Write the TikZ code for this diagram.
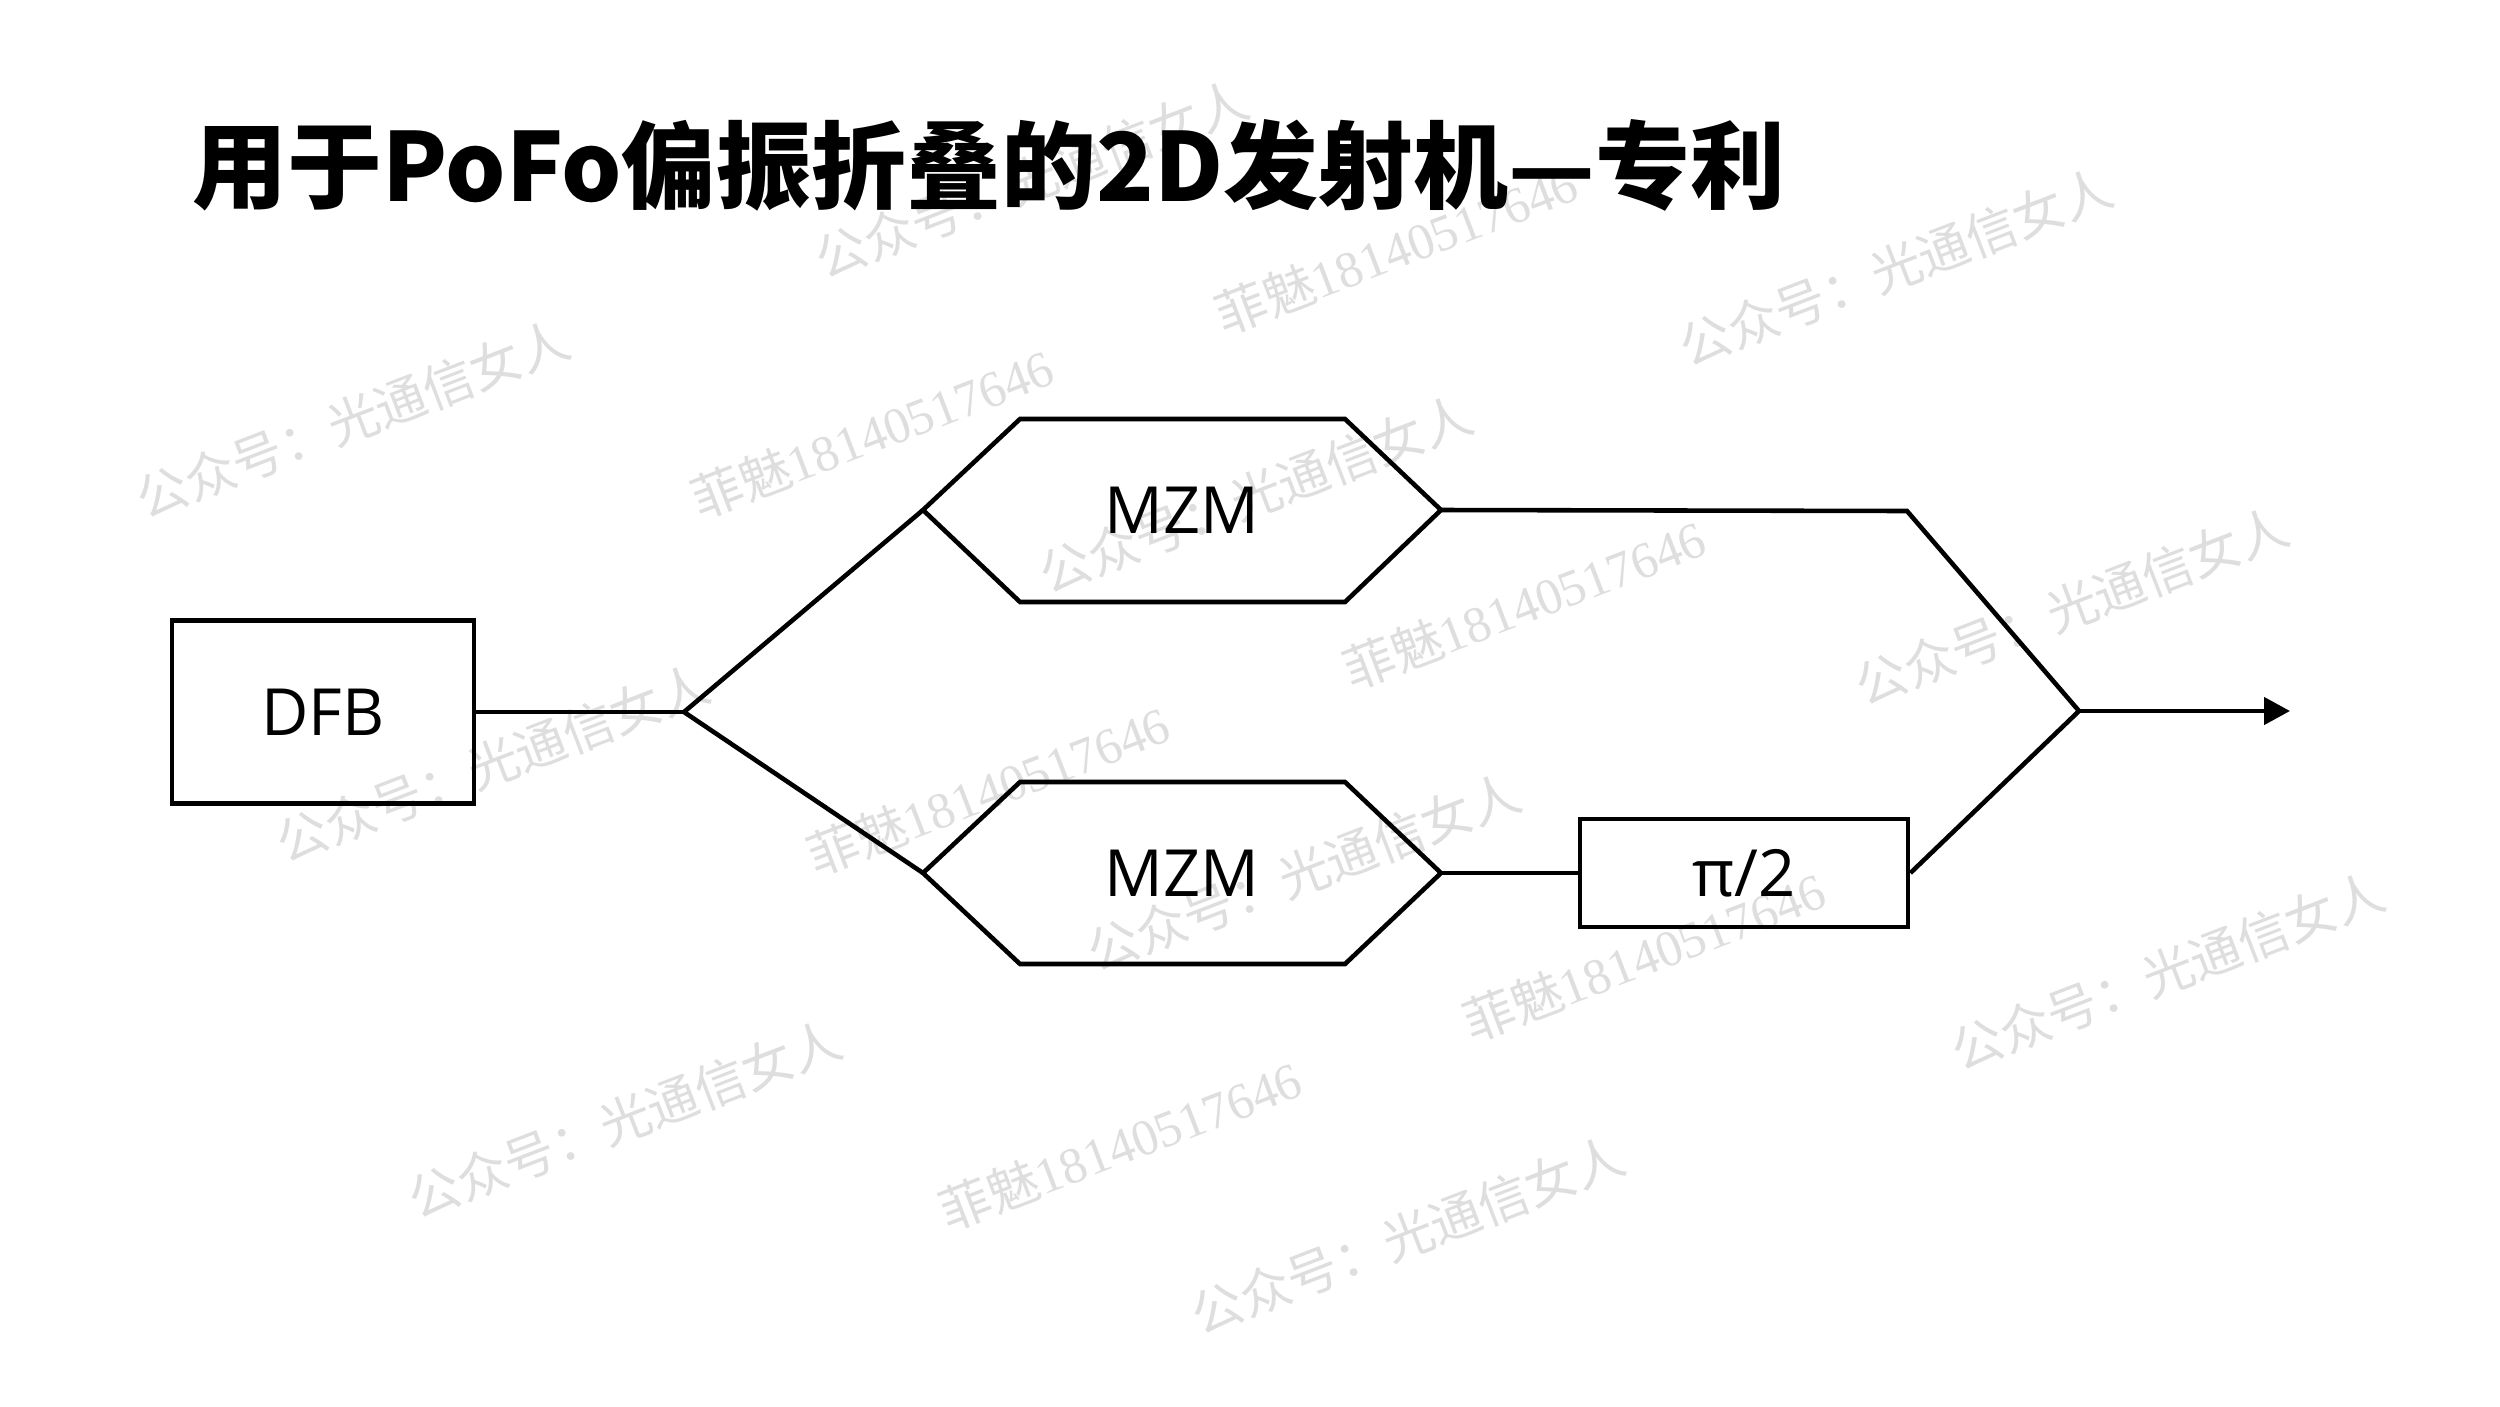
\documentclass[tikz,border=0pt]{standalone}
\usepackage{fontspec}
\setmainfont{Open Sans}
\newfontfamily\cjk{Noto Sans CJK SC}
\newfontfamily\wmdig{Liberation Serif}
\usetikzlibrary{arrows.meta}
\begin{document}
\begin{tikzpicture}[x=0.01cm,y=-0.01cm,
  wire/.style={line width=1.3pt,line join=miter},
  box/.style={draw,line width=1.3pt,inner sep=0pt,font=\fontsize{18.5}{20}\selectfont},
  lbl/.style={inner sep=0pt,font=\fontsize{18.5}{20}\selectfont},
  wm/.style={anchor=base west,rotate=21,inner sep=0pt,text=black!13,font=\cjk\fontsize{14.5}{16}\selectfont}]
\useasboundingbox (0,0) rectangle (2500,1406);
\fill[white] (0,0) rectangle (2500,1406);
% watermarks
\node[wm] (w1) at (145,520) {公众号：光通信女人};
\node[wm] (w2) at (700,520) {菲魅{\wmdig 18140517646}};
\node[wm] (w3) at (824,280) {公众号：光通信女人};
\node[wm] (w4) at (1224,336) {菲魅{\wmdig 18140517646}};
\node[wm] (w5) at (1688,368) {公众号：光通信女人};
\node[wm] (w6) at (1048,595) {公众号：光通信女人};
\node[wm] (w7) at (1352,691) {菲魅{\wmdig 18140517646}};
\node[wm] (w8) at (1864,707) {公众号：光通信女人};
\node[wm] (w9) at (285,864) {公众号：光通信女人};
\node[wm] (w10) at (816,877) {菲魅{\wmdig 18140517646}};
\node[wm] (w11) at (1096,973) {公众号：光通信女人};
\node[wm] (w12) at (1472,1043) {菲魅{\wmdig 18140517646}};
\node[wm] (w13) at (1960,1072) {公众号：光通信女人};
\node[wm] (w14) at (417,1220) {公众号：光通信女人};
\node[wm] (w15) at (948,1232) {菲魅{\wmdig 18140517646}};
\node[wm] (w16) at (1200,1336) {公众号：光通信女人};
% title
\node[anchor=base west,inner sep=0pt,font=\cjk\bfseries\fontsize{27}{30}\selectfont] (title) at (192,201) {用于PoFo偏振折叠的2D发射机—专利};
% DFB
\node[box,minimum width=3.02cm,minimum height=1.83cm] (dfb) at (323,712) {DFB};
\coordinate (split) at (684,712);
% upper MZM
\coordinate (uin) at (923,510);
\coordinate (uout) at (1441,510);
\draw[wire] (uin) -- (1020,419) -- (1345,419) -- (uout) -- (1345,602) -- (1020,602) -- cycle;
\node[lbl] (mzm1) at (1182,510) {MZM};
% lower MZM
\coordinate (lin) at (923,873);
\coordinate (lout) at (1441,873);
\draw[wire] (lin) -- (1020,782) -- (1345,782) -- (lout) -- (1345,964) -- (1020,964) -- cycle;
\node[lbl] (mzm2) at (1182,873) {MZM};
% phase shifter
\node[box,minimum width=3.28cm,minimum height=1.08cm] (pi) at (1744,873) {π/2};
\coordinate (corner) at (1907,511);
\coordinate (join) at (2079,711);
\coordinate (out) at (2290,711);
% connectors
\draw[wire] (dfb.east) -- (split);
\draw[wire] (split) -- (uin);
\draw[wire] (split) -- (lin);
\draw[wire] (uout) -- (corner) -- (join);
\draw[wire] (lout) -- (pi.west);
\draw[wire] (pi.east) -- (join);
\draw[wire,-{Triangle[length=0.26cm,width=0.27cm]}] (join) -- (out);
\end{tikzpicture}
\end{document}
